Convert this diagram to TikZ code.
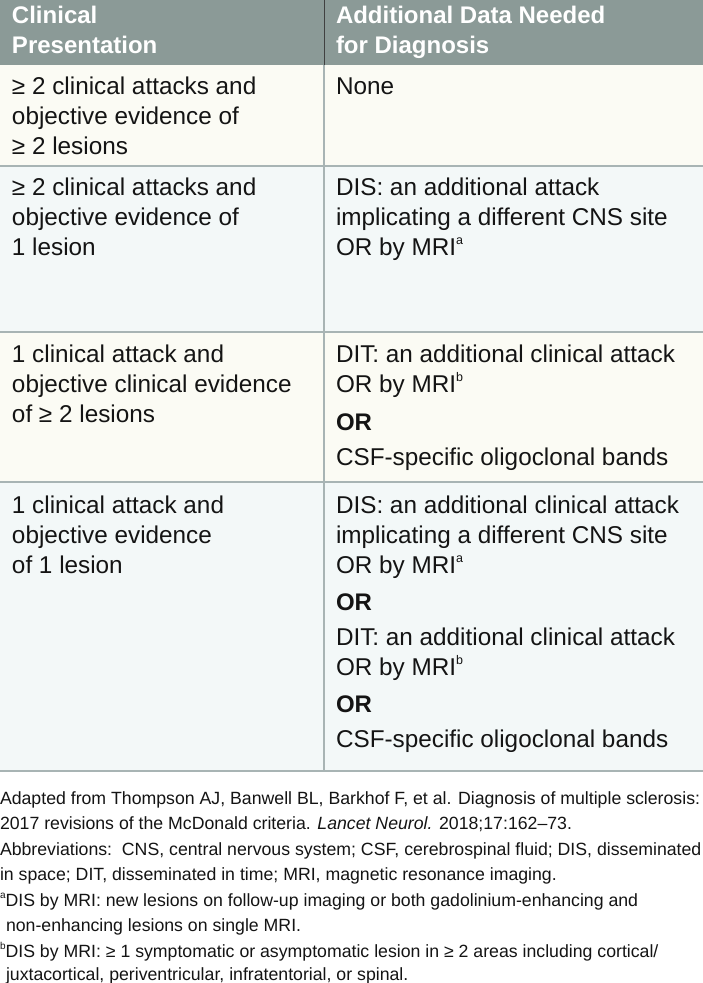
\documentclass[tikz,border=0pt]{standalone}
\usepackage{fontspec}
\setmainfont{Liberation Sans}
\definecolor{hdr}{RGB}{139,154,151}
\definecolor{cream}{RGB}{251,251,244}
\definecolor{pale}{RGB}{243,248,248}
\definecolor{rule}{RGB}{168,180,180}
\definecolor{txt}{RGB}{20,20,20}
\newcommand{\sups}[1]{\raisebox{0.42em}{\fontsize{12.5}{12.5}\selectfont #1}}
\newcommand{\fsups}[1]{\raisebox{0.42em}{\fontsize{10}{10}\selectfont #1}}
\begin{document}
\begin{tikzpicture}[x=1pt,y=-1pt,
  cell/.style={anchor=base west,inner sep=0pt,outer sep=0pt,text=txt,font=\fontsize{24.3}{30}\selectfont},
  bcell/.style={cell,font=\fontsize{24}{30}\selectfont\bfseries},
  head/.style={anchor=base west,inner sep=0pt,outer sep=0pt,text=white,font=\fontsize{24}{30}\selectfont\bfseries},
  foot/.style={anchor=base west,inner sep=0pt,outer sep=0pt,text=txt,font=\fontsize{17.7}{20}\selectfont},
  hline/.style={draw=rule,line width=1.5pt},
]
\useasboundingbox (0,0) rectangle (703,983);
\fill[white] (0,0) rectangle (703,983);
% backgrounds
\fill[hdr] (0,0) rectangle (703,65);
\fill[cream] (0,65) rectangle (703,166);
\fill[pale] (0,166) rectangle (703,332);
\fill[cream] (0,332) rectangle (703,482);
\fill[pale] (0,482) rectangle (703,771);
% rules
\draw[hline] (0,166) -- (703,166);
\draw[hline] (0,332) -- (703,332);
\draw[hline] (0,482) -- (703,482);
\draw[hline] (0,771) -- (703,771);
\draw[draw=rule,line width=1.2pt] (324,65) -- (324,771);
\draw[draw=black!75,line width=1pt] (324,0) -- (324,65);
% header
\node[head] (h1a) at (12,23) {Clinical};
\node[head] (h1b) at (12,53) {Presentation};
\node[head] (h2a) at (336,23) {Additional Data Needed};
\node[head] (h2b) at (336,53) {for Diagnosis};
% row 1
\node[cell] (r1a) at (12,94) {≥ 2 clinical attacks and};
\node[cell] (r1b) at (12,124) {objective evidence of};
\node[cell] (r1c) at (12,154) {≥ 2 lesions};
\node[cell] (r1d) at (336,94) {None};
% row 2
\node[cell] (r2a) at (12,195) {≥ 2 clinical attacks and};
\node[cell] (r2b) at (12,225) {objective evidence of};
\node[cell] (r2c) at (12,255) {1 lesion};
\node[cell] (r2d) at (336,195) {DIS: an additional attack};
\node[cell] (r2e) at (336,225) {implicating a different CNS site};
\node[cell] (r2f) at (336,255) {OR by MRI\sups{a}};
% row 3
\node[cell] (r3a) at (12,362) {1 clinical attack and};
\node[cell] (r3b) at (12,392) {objective clinical evidence};
\node[cell] (r3c) at (12,422) {of ≥ 2 lesions};
\node[cell] (r3d) at (336,362) {DIT: an additional clinical attack};
\node[cell] (r3e) at (336,392) {OR by MRI\sups{b}};
\node[bcell] (r3f) at (336,430) {OR};
\node[cell] (r3g) at (336,465) {CSF-specific oligoclonal bands};
% row 4
\node[cell] (r4a) at (12,513) {1 clinical attack and};
\node[cell] (r4b) at (12,543) {objective evidence};
\node[cell] (r4c) at (12,573) {of 1 lesion};
\node[cell] (r4d) at (336,513) {DIS: an additional clinical attack};
\node[cell] (r4e) at (336,543) {implicating a different CNS site};
\node[cell] (r4f) at (336,573) {OR by MRI\sups{a}};
\node[bcell] (r4g) at (336,610) {OR};
\node[cell] (r4h) at (336,645) {DIT: an additional clinical attack};
\node[cell] (r4i) at (336,675) {OR by MRI\sups{b}};
\node[bcell] (r4j) at (336,712) {OR};
\node[cell] (r4k) at (336,747) {CSF-specific oligoclonal bands};
% footnotes
\node[foot] (f1) at (0,804) {Adapted from Thompson AJ, Banwell BL, Barkhof F, et al. Diagnosis of multiple sclerosis:};
\node[foot] (f2) at (0,829) {2017 revisions of the McDonald criteria. \textit{Lancet Neurol.} 2018;17:162–73.};
\node[foot] (f3) at (0,855) {Abbreviations:\ \ CNS, central nervous system; CSF, cerebrospinal fluid; DIS, disseminated};
\node[foot] (f4) at (0,880) {in space; DIT, disseminated in time; MRI, magnetic resonance imaging.};
\node[foot] (f5) at (0,906) {\fsups{a}DIS by MRI: new lesions on follow-up imaging or both gadolinium-enhancing and};
\node[foot] (f6) at (6,931) {non-enhancing lesions on single MRI.};
\node[foot] (f7) at (0,957) {\fsups{b}DIS by MRI: ≥ 1 symptomatic or asymptomatic lesion in ≥ 2 areas including cortical/};
\node[foot] (f8) at (6,980) {juxtacortical, periventricular, infratentorial, or spinal.};
\end{tikzpicture}
\end{document}
